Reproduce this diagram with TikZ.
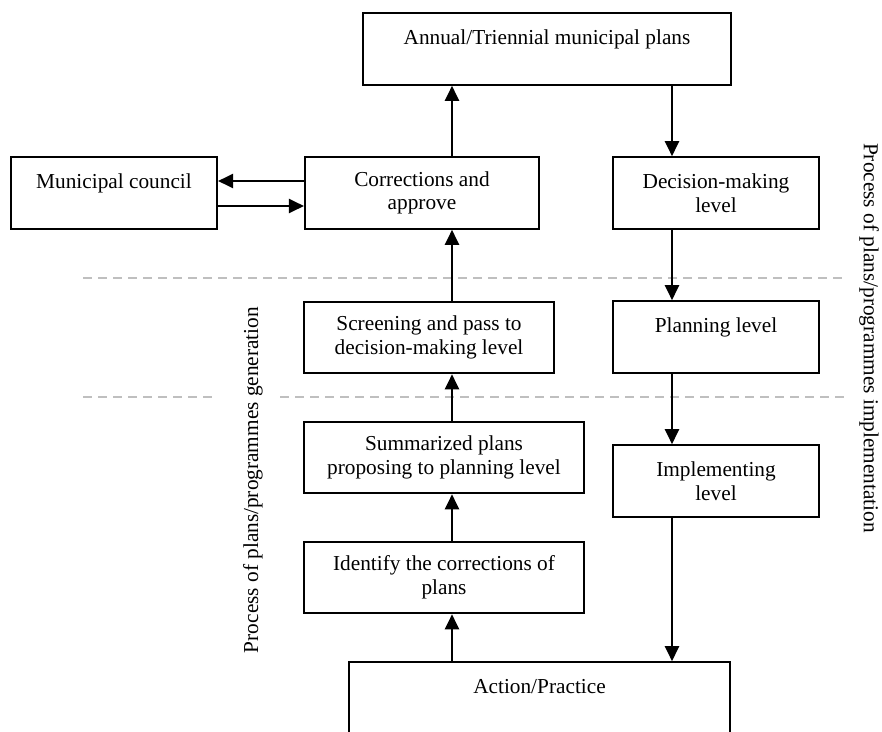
\documentclass[tikz,border=0pt]{standalone}
\usepackage{fontspec}
\setmainfont{Liberation Serif}
\usetikzlibrary{arrows.meta}
\begin{document}
\begin{tikzpicture}[x=1pt,y=-1pt,
  txt/.style={font=\fontsize{21.3}{23.5}\selectfont},
  box/.style={txt, draw, line width=2.1pt, inner sep=0pt, align=center, minimum height=71.5pt},
  flow/.style={line width=2.1pt, -{Triangle[length=15pt,width=14pt]}},
  divider/.style={draw=black!25, line width=1.6pt, dash pattern=on 9pt off 6pt},
  side/.style={txt, inner sep=0pt}]
\useasboundingbox (0,0) rectangle (882,731);
\clip (0,0) rectangle (882,731);

% level dividers
\draw[divider] (83,278) -- (845,278);
\draw[divider] (83,397) -- (217,397);
\draw[divider] (280,397) -- (845,397);

% columns and rows used by the connectors
\coordinate (colL) at (452,0);
\coordinate (colR) at (672,0);
\coordinate (rowA) at (0,181);
\coordinate (rowB) at (0,206);

% boxes
\node[box, minimum width=368pt] (annual)  at (547,49)    {Annual/Triennial municipal plans\\\mbox{}};
\node[box, minimum width=206pt] (council) at (114,193)   {Municipal council\\\mbox{}};
\node[box, minimum width=234pt] (corr)    at (422,193)   {Corrections and\\approve};
\node[box, minimum width=206pt] (dec)     at (716,193)   {Decision-making\\level};
\node[box, minimum width=250pt] (screen)  at (429,337.5) {Screening and pass to\\decision-making level};
\node[box, minimum width=206pt] (plan)    at (716,337)   {Planning level\\\mbox{}};
\node[box, minimum width=280pt] (summ)    at (444,457.5) {Summarized plans\\proposing to planning level};
\node[box, minimum width=206pt] (impl)    at (716,481)   {Implementing\\level};
\node[box, minimum width=280pt] (ident)   at (444,577.5) {Identify the corrections of\\plans};
\node[box, minimum width=381pt] (act)     at (539.5,698) {Action/Practice\\\mbox{}};

% side captions
\node[side, rotate=90]  (gencap)  at (253,480) {Process of plans/programmes generation};
\node[side, rotate=-90] (implcap) at (869,338) {Process of plans/programmes implementation};

% generation flow (upwards)
\draw[flow] (act.north -| colL)    -- (ident.south -| colL);
\draw[flow] (ident.north -| colL)  -- (summ.south -| colL);
\draw[flow] (summ.north -| colL)   -- (screen.south -| colL);
\draw[flow] (screen.north -| colL) -- (corr.south -| colL);
\draw[flow] (corr.north -| colL)   -- (annual.south -| colL);

% council exchange
\draw[flow] (corr.west |- rowA)    -- (council.east |- rowA);
\draw[flow] (council.east |- rowB) -- (corr.west |- rowB);

% implementation flow (downwards)
\draw[flow] (annual.south -| colR) -- (dec.north -| colR);
\draw[flow] (dec.south -| colR)    -- (plan.north -| colR);
\draw[flow] (plan.south -| colR)   -- (impl.north -| colR);
\draw[flow] (impl.south -| colR)   -- (act.north -| colR);
\end{tikzpicture}
\end{document}
